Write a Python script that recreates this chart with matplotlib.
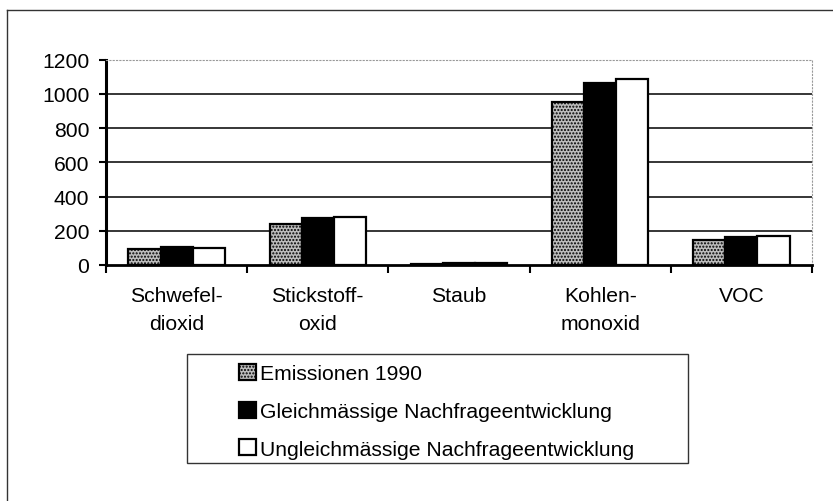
import matplotlib
matplotlib.use("Agg")
import matplotlib.pyplot as plt
import numpy as np
from matplotlib.patches import Rectangle
from matplotlib.lines import Line2D

plt.rcParams['font.family'] = ['Liberation Sans', 'DejaVu Sans']
plt.rcParams['hatch.linewidth'] = 1.0

categories = ["Schwefel-\ndioxid", "Stickstoff-\noxid", "Staub", "Kohlen-\nmonoxid", "VOC"]
series_names = ["Emissionen 1990",
                "Gleichmässige Nachfrageentwicklung",
                "Ungleichmässige Nachfrageentwicklung"]
emissionen_1990 = [92, 240, 8, 955, 145]
gleichmaessig = [105, 275, 10, 1065, 165]
ungleichmaessig = [102, 278, 10, 1085, 168]
yticks = [0, 200, 400, 600, 800, 1000, 1200]

FS = 15.2
W, H = 833, 502
fig = plt.figure(figsize=(W / 100, H / 100), dpi=100)
ax = fig.add_axes([106 / W, 1 - 266 / H, (812 - 106) / W, (266 - 60.7) / H])

x = np.arange(len(categories))
bw = 0.228
b1 = ax.bar(x - bw, emissionen_1990, bw, facecolor='#bdbdbd', edgecolor='black',
            linewidth=1.6, hatch='.....', zorder=3, label=series_names[0])
b2 = ax.bar(x, gleichmaessig, bw, facecolor='black', edgecolor='black',
            linewidth=1.6, zorder=3, label=series_names[1])
b3 = ax.bar(x + bw, ungleichmaessig, bw, facecolor='white', edgecolor='black',
            linewidth=1.6, zorder=3, label=series_names[2])

ax.set_xlim(-0.5, len(categories) - 0.5)
ax.set_ylim(0, 1200)
ax.set_yticks(yticks)
ax.set_yticklabels([str(v) for v in yticks], fontsize=FS)
ax.tick_params(axis='y', length=5, width=1.5, pad=7, direction='out')

ax.set_xticks(x)
ax.set_xticklabels(categories, fontsize=FS, linespacing=1.62)
ax.tick_params(axis='x', which='major', length=0, pad=15)
ax.set_xticks(np.arange(len(categories) + 1) - 0.5, minor=True)
ax.tick_params(axis='x', which='minor', length=6, width=1.5, direction='out')

for v in yticks[1:-1]:
    ax.axhline(v, color='black', linewidth=1.1, zorder=1)

ax.spines['left'].set_linewidth(2.2)
ax.spines['bottom'].set_linewidth(2.0)
for s in ['top', 'right']:
    ax.spines[s].set_linestyle((0, (1, 2)))
    ax.spines[s].set_color('#999999')
    ax.spines[s].set_linewidth(0.8)

# outer frame
fig.add_artist(Line2D([7 / W, 1.0], [1 - 11 / H, 1 - 11 / H], transform=fig.transFigure,
                      color='#333333', linewidth=1.0))
fig.add_artist(Line2D([7 / W, 7 / W], [1 - 11 / H, 0.0], transform=fig.transFigure,
                      color='#333333', linewidth=1.0))

# legend box
fig.add_artist(Rectangle((187 / W, 1 - 464 / H), (688 - 187) / W, (464 - 355) / H,
                         transform=fig.transFigure, facecolor='none',
                         edgecolor='#333333', linewidth=1.0))
leg = fig.legend(handles=[b1, b2, b3], labels=series_names, loc='upper left',
                 bbox_to_anchor=(239 / W, 1 - 365 / H), frameon=False,
                 fontsize=FS, handlelength=0.8, handleheight=0.8,
                 handletextpad=0.2, labelspacing=0.86, borderpad=0, borderaxespad=0)

fig.savefig("out.png", dpi=100)
